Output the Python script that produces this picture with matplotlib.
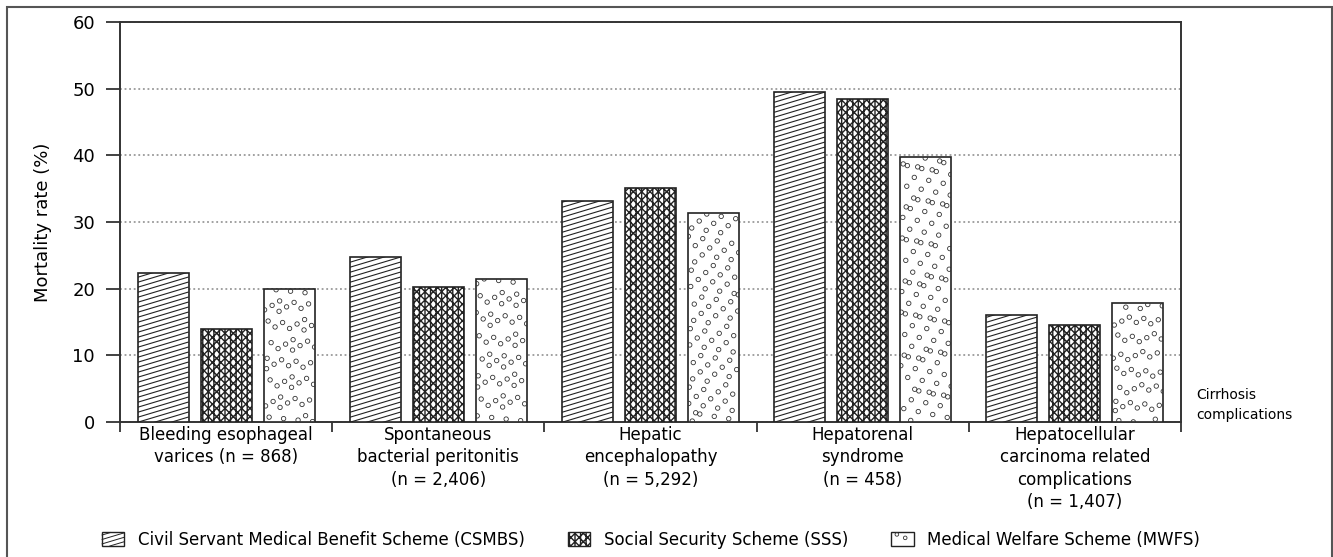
import matplotlib
matplotlib.use('Agg')
import matplotlib.pyplot as plt
import numpy as np
from matplotlib.patches import Patch, Rectangle, Circle
from matplotlib.collections import LineCollection
from matplotlib.legend_handler import HandlerBase

# data
categories = ['Bleeding esophageal\nvarices (n = 868)',
              'Spontaneous\nbacterial peritonitis\n(n = 2,406)',
              'Hepatic\nencephalopathy\n(n = 5,292)',
              'Hepatorenal\nsyndrome\n(n = 458)',
              'Hepatocellular\ncarcinoma related\ncomplications\n(n = 1,407)']
schemes = ['Civil Servant Medical Benefit Scheme (CSMBS)',
           'Social Security Scheme (SSS)',
           'Medical Welfare Scheme (MWFS)']
csmbs = [22.3, 24.7, 33.2, 49.5, 16.0]
sss = [13.9, 20.3, 35.1, 48.5, 14.6]
mwfs = [20.0, 21.5, 31.4, 39.8, 17.8]
y_ticks = [0, 10, 20, 30, 40, 50, 60]

plt.rcParams['font.family'] = ['DejaVu Sans']
plt.rcParams['hatch.linewidth'] = 1.0
plt.rcParams['hatch.color'] = '#1a1a1a'

W, H = 1333, 557
fig = plt.figure(figsize=(W / 100, H / 100), dpi=100)
ax = fig.add_axes([120 / W, 1 - 422 / H, 1061 / W, 400 / H])

EDGE = '#222222'
SSS_HATCH = 'xxxx|||'
x = np.arange(len(categories))
bw = 0.24
step = 0.297

ax.set_xlim(-0.5, len(categories) - 0.5)
ax.set_ylim(0, 60)

b1 = ax.bar(x - step, csmbs, bw, color='white', edgecolor=EDGE, linewidth=1.2, zorder=3)
b2 = ax.bar(x, sss, bw, color='white', edgecolor=EDGE, linewidth=1.2, hatch=SSS_HATCH, zorder=3)
b3 = ax.bar(x + step, mwfs, bw, color='white', edgecolor=EDGE, linewidth=1.2, zorder=3)

# pixel scale of the data units, needed for the textures
p0 = ax.transData.transform((0, 0))
p1 = ax.transData.transform((1, 1))
px_x, px_y = p1[0] - p0[0], p1[1] - p0[1]

# shallow diagonal lines for CSMBS
slope_px, gap_px = 0.3, 5.0
for bar in b1:
    x0, w, h = bar.get_x(), bar.get_width(), bar.get_height()
    rise = slope_px * w * px_x / px_y
    segs = [[(x0, y0), (x0 + w, y0 + rise)]
            for y0 in np.arange(-rise, h, gap_px / px_y)]
    lc = LineCollection(segs, colors=EDGE, linewidths=0.8, zorder=3.5)
    ax.add_collection(lc)
    lc.set_clip_path(bar)

# scattered small circles for MWFS (deterministic R2 sequence)
g = 1.32471795724474602596
a1, a2 = 1 / g, 1 / g ** 2
start = 11
for bar in b3:
    x0, w, h = bar.get_x(), bar.get_width(), bar.get_height()
    n = int(w * px_x * h * px_y / 120)
    idx = np.arange(start, start + n)
    start += n + 37
    u = (0.5 + a1 * idx) % 1
    v = (0.5 + a2 * idx) % 1
    sc = ax.scatter(x0 + u * w, v * h, s=10, facecolors='none',
                    edgecolors='#333333', linewidths=0.6, zorder=3.5)
    sc.set_clip_path(bar)

# axes styling
for sp in ax.spines.values():
    sp.set_color('#333333')
    sp.set_linewidth(1.4)
ax.set_yticks(y_ticks)
ax.tick_params(axis='y', direction='out', length=10, width=1.3, color='#333333',
               labelsize=13, pad=8)
ax.set_xticks(np.arange(-0.5, len(categories)), labels=[''] * (len(categories) + 1))
ax.set_xticks(x, labels=categories, minor=True)
ax.tick_params(axis='x', which='major', direction='out', length=7, width=1.3, color='#333333')
ax.tick_params(axis='x', which='minor', length=0, labelsize=12, pad=3)
for lab in ax.get_xticklabels(minor=True):
    lab.set_linespacing(1.3)
ax.yaxis.grid(True, linestyle=(0, (1.2, 1.8)), color='#888888', linewidth=1.1)
ax.set_axisbelow(True)

fig.text(43 / W, 1 - 222 / H, 'Mortality rate (%)', rotation=90,
         ha='center', va='center', fontsize=13)
fig.text(1196 / W, 1 - 405 / H, 'Cirrhosis\ncomplications', ha='left', va='center',
         fontsize=10, linespacing=1.5)


# legend handlers with the same textures
class ShallowHandler(HandlerBase):
    def create_artists(self, legend, orig_handle, xd, yd, width, height, fontsize, trans):
        rect = Rectangle((-xd, -yd), width, height, facecolor='white',
                         edgecolor=EDGE, linewidth=1.0, transform=trans)
        segs = []
        s = 0.3
        for c in np.arange(-s * width, height, 3.2):
            xlo = max(0.0, -c / s)
            xhi = min(width, (height - c) / s)
            if xlo < xhi:
                segs.append([(-xd + xlo, -yd + c + s * xlo), (-xd + xhi, -yd + c + s * xhi)])
        lc = LineCollection(segs, colors=EDGE, linewidths=0.7, transform=trans)
        return [rect, lc]


class DotsHandler(HandlerBase):
    def create_artists(self, legend, orig_handle, xd, yd, width, height, fontsize, trans):
        rect = Rectangle((-xd, -yd), width, height, facecolor='white',
                         edgecolor=EDGE, linewidth=1.0, transform=trans)
        dots = [Circle((-xd + width * fx, -yd + height * fy), 1.3, facecolor='none',
                       edgecolor='#333333', linewidth=0.6, transform=trans)
                for fx, fy in [(0.25, 0.85), (0.62, 0.6)]]
        return [rect] + dots


h1 = Patch(facecolor='white', edgecolor=EDGE)
h2 = Patch(facecolor='white', edgecolor=EDGE, hatch=SSS_HATCH)
h3 = Patch(facecolor='white', edgecolor=EDGE)
fig.legend([h1, h2, h3], schemes, loc='center left',
           bbox_to_anchor=(95 / W, 1 - 540 / H), ncol=3, frameon=False,
           fontsize=12, handlelength=1.35, handleheight=0.9, handletextpad=0.8,
           columnspacing=2.6, borderaxespad=0,
           handler_map={h1: ShallowHandler(), h3: DotsHandler()})

# outer frame (bottom edge runs off the image)
fig.patches.append(Rectangle((7 / W, -0.05), 1325 / W, 1.05 - 7 / H, transform=fig.transFigure,
                             fill=False, edgecolor='#555555', linewidth=1.5))

fig.savefig('out.png', dpi=100)
